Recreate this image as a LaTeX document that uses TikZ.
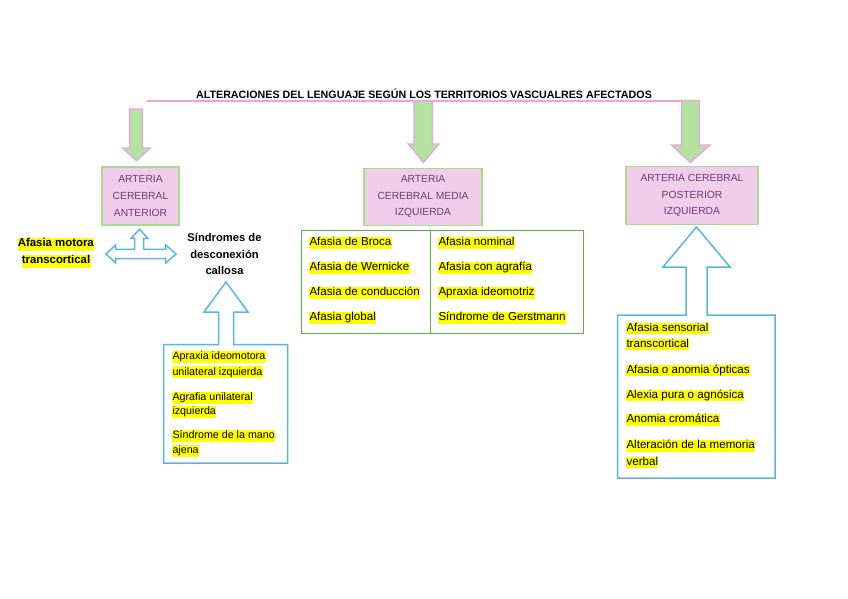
\documentclass[tikz,border=0pt]{standalone}
\usepackage{fontspec}
\setmainfont{Liberation Sans}
\definecolor{pinkline}{HTML}{E8A6E0}
\definecolor{arrgreen}{HTML}{B5E2A0}
\definecolor{boxpink}{HTML}{F0CDEB}
\definecolor{boxgreen}{HTML}{A6DC8E}
\definecolor{boxtext}{HTML}{6E3A6E}
\definecolor{calloutblue}{HTML}{5AB4E4}
\definecolor{tablegreen}{HTML}{5DB04A}
\definecolor{hlyellow}{HTML}{FFFF00}
\begin{document}
\begin{tikzpicture}[x=1pt,y=-1pt,
  downarrow/.style={draw=pinkline, fill=arrgreen, line width=1.4pt, line join=miter},
  artbox/.style={draw=boxgreen, fill=boxpink, line width=1.4pt, inner sep=0pt,
     text=boxtext, align=center, font=\fontsize{10.3}{16.7}\selectfont},
  blueshape/.style={draw=calloutblue, line width=1.5pt, line join=miter},
  cell/.style={draw=tablegreen, line width=1.3pt, inner sep=0pt},
  hl/.style={fill=hlyellow, inner xsep=0.3pt, inner ysep=0pt, anchor=west,
     text height=8.6pt, text depth=3pt, font=\fontsize{11.6}{13}\selectfont},
  hlsmall/.style={fill=hlyellow, inner xsep=0.3pt, inner ysep=0pt, anchor=west,
     text height=8.6pt, text depth=3.2pt, font=\fontsize{10.7}{12}\selectfont},
  hlbold/.style={fill=hlyellow, inner xsep=0.3pt, inner ysep=0pt, anchor=west,
     text height=9.4pt, text depth=3.6pt, font=\bfseries\fontsize{11.4}{13}\selectfont},
  plainbold/.style={inner sep=0pt, align=center, font=\bfseries\fontsize{11.2}{16.8}\selectfont}
]
\useasboundingbox (0,0) rectangle (848,599);
\fill[white] (0,0) rectangle (848,599);

% title and top line
\node[inner sep=0pt, font=\bfseries\fontsize{10.7}{12}\selectfont] (title) at (424,93.5)
  {ALTERACIONES DEL LENGUAJE SEGÚN LOS TERRITORIOS VASCUALRES AFECTADOS};
\coordinate (lineL) at (146.7,101);
\coordinate (lineR) at (690,101);
\draw[pinkline, line width=1.4pt] (lineL) -- (lineR);

% down arrows
\draw[downarrow] (129.5,109) -- (142.5,109) -- (142.5,148) -- (150.5,148) -- (136.5,160.5)
  -- (122.5,148) -- (129.5,148) -- cycle;
\draw[downarrow] (414,101) -- (432.5,101) -- (432.5,144) -- (439,144) -- (423.5,162.5)
  -- (408.5,144) -- (414,144) -- cycle;
\draw[downarrow] (681.5,100.5) -- (699.5,100.5) -- (699.5,145) -- (710,145) -- (690.5,162.5)
  -- (671.5,145) -- (681.5,145) -- cycle;

% artery boxes
\node[artbox, minimum width=77pt, minimum height=58pt] (aca) at (140.5,196)
  {ARTERIA\\CEREBRAL\\ANTERIOR};
\node[artbox, minimum width=118pt, minimum height=57pt] (acm) at (423,196.7)
  {ARTERIA\\CEREBRAL MEDIA\\IZQUIERDA};
\node[artbox, minimum width=132pt, minimum height=57.6pt] (acp) at (692,195.5)
  {ARTERIA CEREBRAL\\POSTERIOR\\IZQUIERDA};

% left-right-up arrow
\draw[blueshape] (106,254) -- (115.7,245) -- (115.7,249.3) -- (134.5,249.3) -- (134.5,238.3)
  -- (131,238.3) -- (139.5,229.3) -- (147.8,238.3) -- (143.7,238.3) -- (143.7,249.3)
  -- (165.7,249.3) -- (165.7,245) -- (176,254) -- (165.7,263) -- (165.7,258.5)
  -- (115.7,258.5) -- (115.7,263) -- cycle;

% Afasia motora transcortical
\node[hlbold] (amt1) at (17.3,244) {Afasia motora};
\node[hlbold] (amt2) at (21.3,261) {transcortical};

% Sindromes de desconexion callosa
\node[plainbold] (sdc) at (224.5,254) {Síndromes de\\desconexión\\callosa};

% left callout
\draw[blueshape] (163.5,344.5) -- (218.5,344.5) -- (218.5,312) -- (204,312) -- (226,282)
  -- (248,312) -- (233.5,312) -- (233.5,344.5) -- (287.5,344.5) -- (287.5,463)
  -- (163.5,463) -- cycle;
\node[hlsmall] (lc1) at (172,356.7) {Apraxia ideomotora};
\node[hlsmall] (lc2) at (172,372.3) {unilateral izquierda};
\node[hlsmall] (lc3) at (172,397.7) {Agrafia unilateral};
\node[hlsmall] (lc4) at (172,411.7) {izquierda};
\node[hlsmall] (lc5) at (172,435.7) {Síndrome de la mano};
\node[hlsmall] (lc6) at (172,451) {ajena};

% middle table
\node[cell, minimum width=129.3pt, minimum height=102.7pt, anchor=north west] (tl) at (300.7,230) {};
\node[cell, minimum width=152.7pt, minimum height=102.7pt, anchor=north west] (tr) at (430,230) {};
\node[hl] (m1) at (309,243) {Afasia de Broca};
\node[hl] (m2) at (309,268) {Afasia de Wernicke};
\node[hl] (m3) at (309,293) {Afasia de conducción};
\node[hl] (m4) at (309,318) {Afasia global};
\node[hl] (m5) at (438,243) {Afasia nominal};
\node[hl] (m6) at (438,268) {Afasia con agrafía};
\node[hl] (m7) at (438,293) {Apraxia ideomotriz};
\node[hl] (m8) at (438,318) {Síndrome de Gerstmann};

% right callout
\draw[blueshape] (617.5,315) -- (686,315) -- (686,267) -- (663,267) -- (696.5,227)
  -- (730,267) -- (707,267) -- (707,315) -- (775,315) -- (775,478) -- (617.5,478) -- cycle;
\node[hl] (r1) at (626,328.5) {Afasia sensorial};
\node[hl] (r2) at (626,344.5) {transcortical};
\node[hl] (r3) at (626,370.5) {Afasia o anomia ópticas};
\node[hl] (r4) at (626,395.5) {Alexia pura o agnósica};
\node[hl] (r5) at (626,420) {Anomia cromática};
\node[hl] (r6) at (626,446) {Alteración de la memoria};
\node[hl] (r7) at (626,462.5) {verbal};
\end{tikzpicture}
\end{document}
